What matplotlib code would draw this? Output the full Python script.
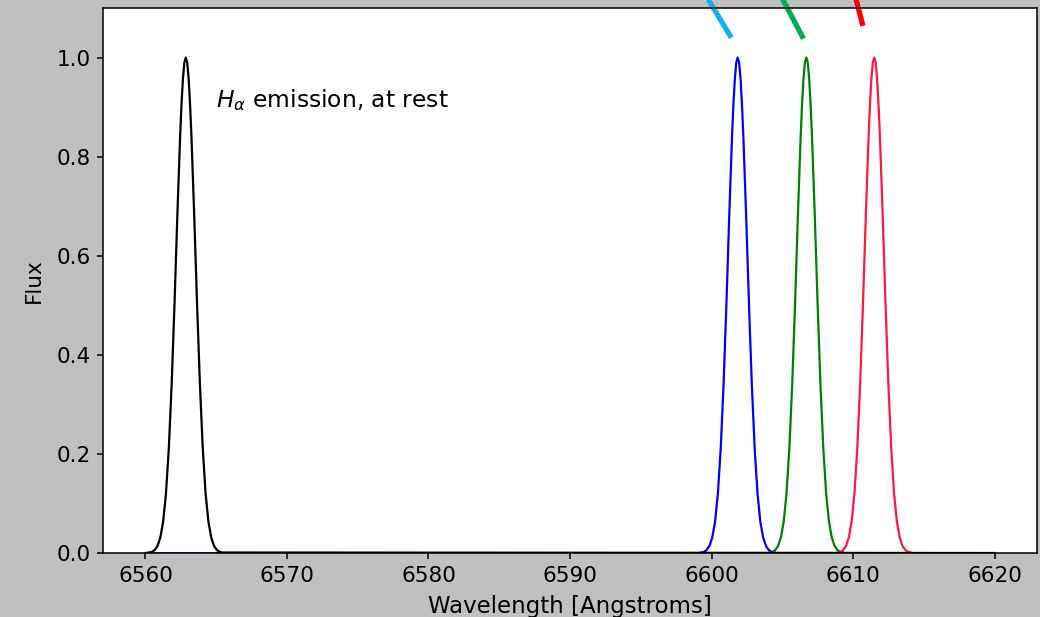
import matplotlib
matplotlib.use("Agg")
import matplotlib.pyplot as plt
import numpy as np

matplotlib.rcParams.update({
    'figure.facecolor': '#c0c0c0',
    'font.size': 15.5,
})

# line centres [Angstroms]
rest_centre = 6562.85
shifted_centres = [6601.85, 6606.7, 6611.5]
shifted_colors = ['blue', 'green', '#ff1744']

# normalised line profile, offset from centre [Angstroms] vs flux
offsets = [-2.6, -2.4, -2.2, -2.0, -1.8, -1.6, -1.4, -1.2, -1.0, -0.8,
           -0.6, -0.4, -0.3, -0.2, -0.1, 0.0, 0.1, 0.2, 0.3, 0.4, 0.6,
           0.8, 1.0, 1.2, 1.4, 1.6, 1.8, 2.0, 2.2, 2.4, 2.6]
profile = [0.001, 0.002, 0.006, 0.014, 0.031, 0.063, 0.120, 0.211,
           0.339, 0.500, 0.678, 0.841, 0.907, 0.958, 0.990, 1.000,
           0.990, 0.958, 0.907, 0.841, 0.678, 0.500, 0.339, 0.211,
           0.120, 0.063, 0.031, 0.014, 0.006, 0.002, 0.001]

grid_start, grid_end = 6560.0, 6620.0
blue_floor = [6560.7, 6565.1]

# pointer strokes above the shifted lines: (x0, y0, x1, y1) in data units
pointers = [
    (6599.5, 1.13, 6601.4, 1.040, '#1ab0e8'),
    (6604.8, 1.13, 6606.5, 1.038, '#00b050'),
    (6610.1, 1.13, 6610.7, 1.064, '#ff0000'),
]

offsets = np.array(offsets)
profile = np.array(profile)

fig = plt.figure(figsize=(10.4, 6.17), dpi=100)
ax = fig.add_axes([103 / 1040, 64 / 617, 934 / 1040, 545 / 617])

ax.plot(blue_floor, [0, 0], color='blue', lw=2)
for c, col in zip(shifted_centres, shifted_colors):
    ax.plot(c + offsets, profile, color=col, lw=1.6)

rest_x = np.concatenate([[grid_start], rest_centre + offsets, [grid_end]])
rest_y = np.concatenate([[0], profile, [0]])
ax.plot(rest_x, rest_y, color='black', lw=1.6)

for x0, y0, x1, y1, col in pointers:
    ax.plot([x0, x1], [y0, y1], color=col, lw=3.8, clip_on=False,
            solid_capstyle='butt')

ax.text(6565, 0.9, r'$H_\alpha$ emission, at rest', fontsize=16.8)

ax.set_xlim(6557, 6623)
ax.set_ylim(0, 1.1)
ax.set_xticks([6560, 6570, 6580, 6590, 6600, 6610, 6620])
ax.set_yticks([0.0, 0.2, 0.4, 0.6, 0.8, 1.0])
ax.set_xlabel('Wavelength [Angstroms]', fontsize=16.5, labelpad=7)
ax.set_ylabel('Flux', fontsize=15.5, labelpad=9)
for sp in ax.spines.values():
    sp.set_linewidth(1.1)
ax.tick_params(length=4, width=1.1, pad=5)

plt.savefig('out.png', dpi=100)
